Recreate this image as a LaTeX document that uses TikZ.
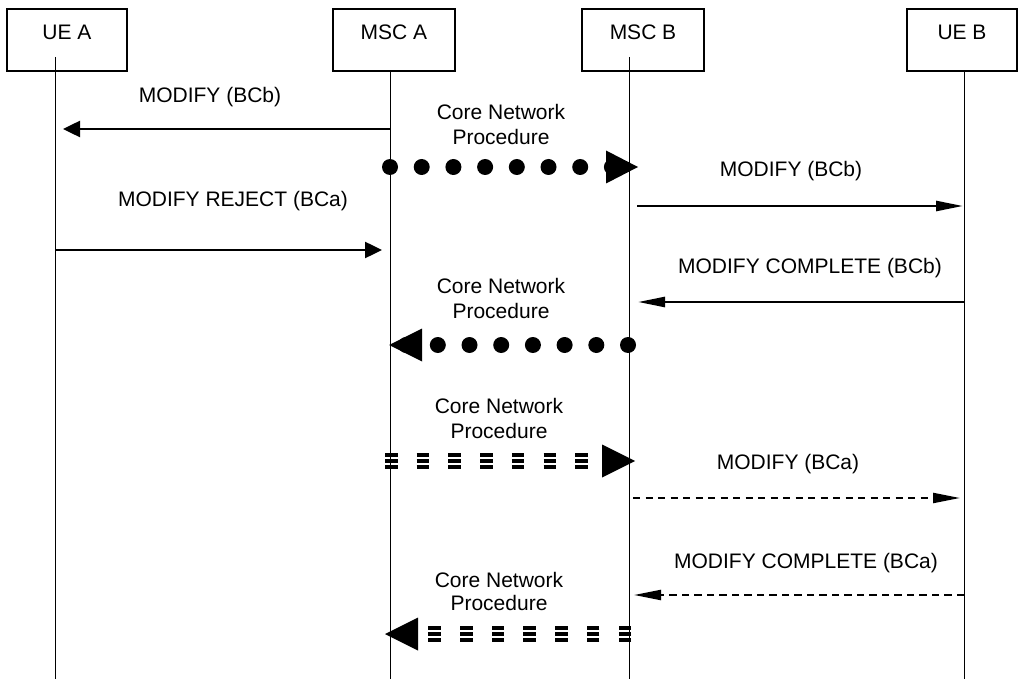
\documentclass[tikz,border=0pt]{standalone}
\usepackage{fontspec}
\setmainfont{Liberation Sans}
\usetikzlibrary{arrows.meta}
\begin{document}
\begin{tikzpicture}[x=1pt,y=-1pt,
  every node/.style={font=\fontsize{21}{25}\selectfont, inner sep=0pt},
  entity/.style={draw, line width=1.5pt, minimum height=62pt, text height=15pt, text depth=15pt},
  lifeline/.style={line width=1pt},
  lbl/.style={anchor=base},
  msg/.style={line width=2.5pt},
  bighead/.style={-{Triangle[length=17pt,width=16pt]}},
  longhead/.style={-{Triangle[length=27pt,width=10pt]}},
  dashmsg/.style={line width=2.2pt, dash pattern=on 7.3pt off 5.2pt},
  dotline/.style={line width=16pt, line cap=round, dash pattern=on 0pt off 31.7pt},
  triline/.style={line width=3.2pt, dash pattern=on 12.5pt off 19.2pt}
]
\useasboundingbox (0,0) rectangle (1018,679);

% entities
\node[entity, minimum width=120pt] (ueA) at (67,40) {UE A};
\node[entity, minimum width=122pt] (mscA) at (394,40) {MSC A};
\node[entity, minimum width=122pt] (mscB) at (643,40) {MSC B};
\node[entity, minimum width=110pt] (ueB) at (962,40) {UE B};

% lifelines
\coordinate (ueAt) at (55,57);   \coordinate (ueAb) at (55,679);
\coordinate (mscAt) at (390,71); \coordinate (mscAb) at (390,679);
\coordinate (mscBt) at (629,57); \coordinate (mscBb) at (629,679);
\coordinate (ueBt) at (964,71);  \coordinate (ueBb) at (964,679);
\draw[lifeline] (ueAt) -- (ueAb);
\draw[lifeline] (mscAt) -- (mscAb);
\draw[lifeline] (mscBt) -- (mscBb);
\draw[lifeline] (ueBt) -- (ueBb);

% MODIFY (BCb) MSC A -> UE A
\node[lbl] (l1) at (210,103) {MODIFY (BCb)};
\coordinate (m1s) at (390,129); \coordinate (m1e) at (63,129);
\draw[msg, bighead] (m1s) -- (m1e);

% Core Network Procedure 1 (dotted, right)
\node[lbl] (c1a) at (501,120) {Core Network};
\node[lbl] (c1b) at (501,145) {Procedure};
\coordinate (cn1s) at (390,167); \coordinate (cn1e) at (612,167); \coordinate (cn1t) at (638,167);
\draw[dotline] (cn1s) -- (cn1e);
\fill (cn1t) -- ++(-32,-16.5) -- ++(0,33) -- cycle;

% MODIFY (BCb) MSC B -> UE B
\node[lbl] (l2) at (791,177) {MODIFY (BCb)};
\coordinate (m2s) at (637,206); \coordinate (m2e) at (963,206);
\draw[msg, longhead] (m2s) -- (m2e);

% MODIFY REJECT (BCa) UE A -> MSC A
\node[lbl] (l3) at (233,207) {MODIFY REJECT (BCa)};
\coordinate (m3s) at (55,250); \coordinate (m3e) at (382,250);
\draw[msg, bighead] (m3s) -- (m3e);

% MODIFY COMPLETE (BCb) UE B -> MSC B
\node[lbl] (l4) at (810,273) {MODIFY COMPLETE (BCb)};
\coordinate (m4s) at (964,302); \coordinate (m4e) at (638,302);
\draw[msg, longhead] (m4s) -- (m4e);

% Core Network Procedure 2 (dotted, left)
\node[lbl] (c2a) at (501,294) {Core Network};
\node[lbl] (c2b) at (501,318) {Procedure};
\coordinate (cn2s) at (628,345); \coordinate (cn2e) at (406,345); \coordinate (cn2t) at (389,345);
\draw[dotline] (cn2s) -- (cn2e);
\fill (cn2t) -- ++(33,-16.5) -- ++(0,33) -- cycle;

% Core Network Procedure 3 (triple dashed, right)
\node[lbl] (c3a) at (499,413) {Core Network};
\node[lbl] (c3b) at (499,438) {Procedure};
\coordinate (cn3s) at (385,461); \coordinate (cn3e) at (603,461); \coordinate (cn3t) at (635,461);
\foreach \s in {-6,0,6} \draw[triline] ([yshift=\s pt]cn3s) -- ([yshift=\s pt]cn3e);
\fill (cn3t) -- ++(-33,-16.5) -- ++(0,33) -- cycle;

% MODIFY (BCa) MSC B -> UE B dashed
\node[lbl] (l5) at (788,469) {MODIFY (BCa)};
\coordinate (m5s) at (633,498); \coordinate (m5e) at (960,498);
\draw[dashmsg, longhead] (m5s) -- (m5e);

% MODIFY COMPLETE (BCa) UE B -> MSC B dashed
\node[lbl] (l6) at (806,568) {MODIFY COMPLETE (BCa)};
\coordinate (m6s) at (964,595); \coordinate (m6e) at (634,595);
\draw[dashmsg, longhead] (m6s) -- (m6e);

% Core Network Procedure 4 (triple dashed, left)
\node[lbl] (c4a) at (499,587) {Core Network};
\node[lbl] (c4b) at (499,610) {Procedure};
\coordinate (cn4s) at (631,634); \coordinate (cn4e) at (420,634); \coordinate (cn4t) at (385,634);
\foreach \s in {-6,0,6} \draw[triline] ([yshift=\s pt]cn4s) -- ([yshift=\s pt]cn4e);
\fill (cn4t) -- ++(33,-16.5) -- ++(0,33) -- cycle;
\end{tikzpicture}
\end{document}
